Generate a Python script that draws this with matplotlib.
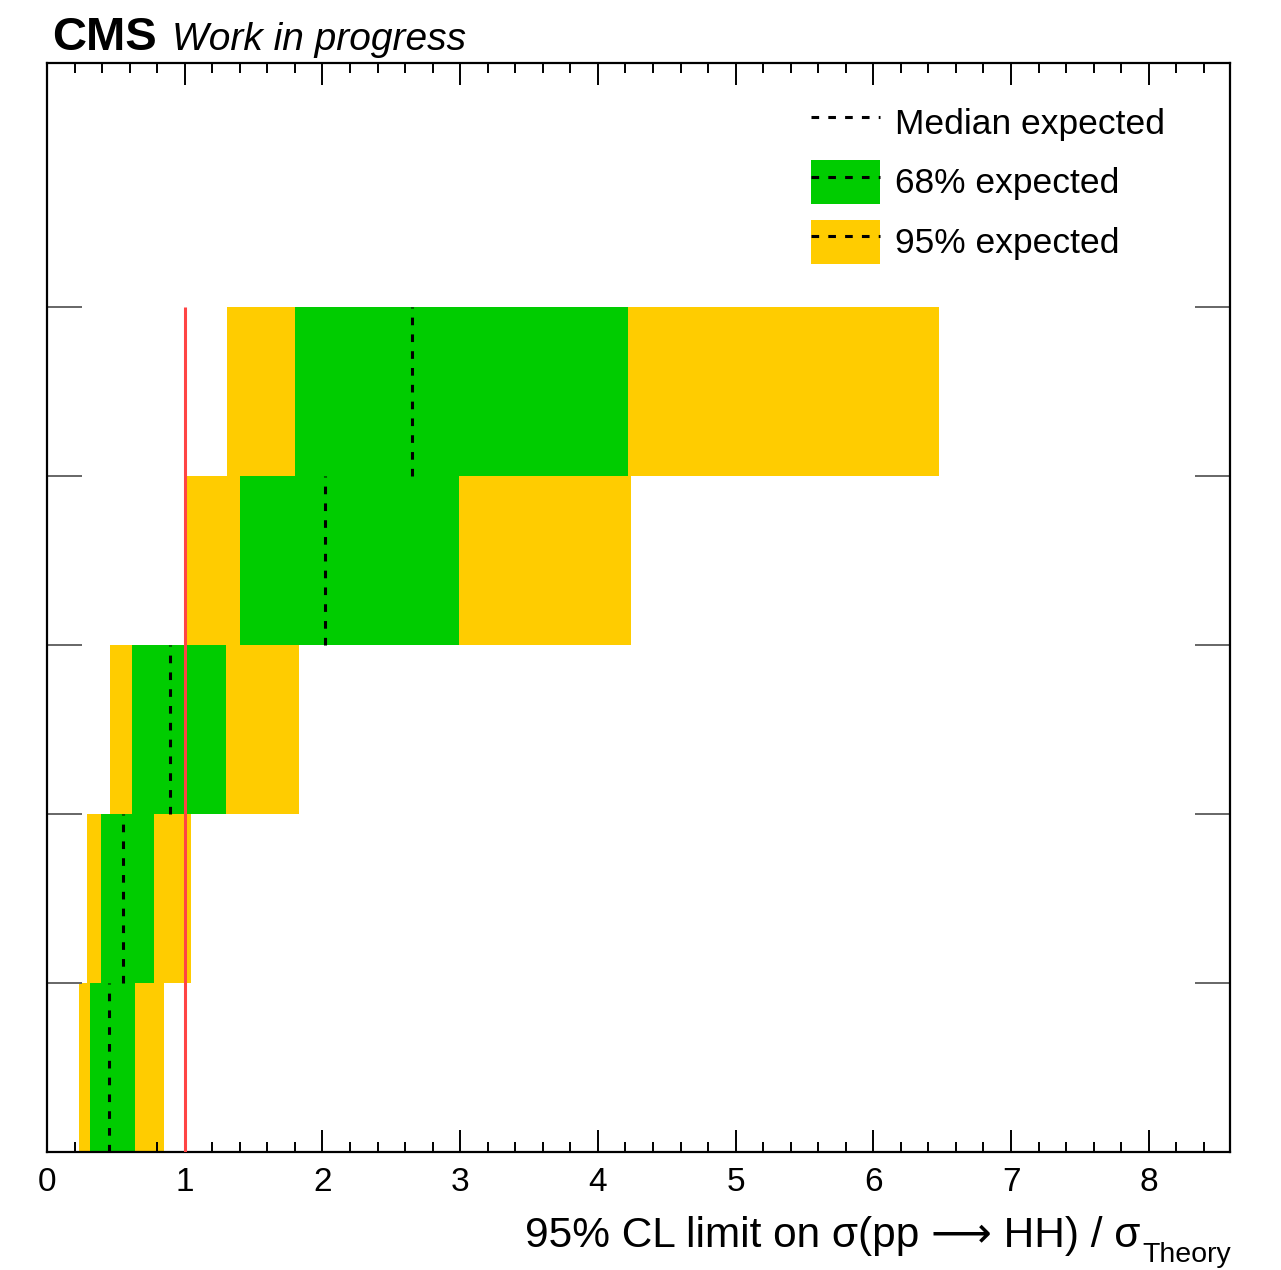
import matplotlib
matplotlib.use("Agg")
import matplotlib.pyplot as plt
import numpy as np
from matplotlib.patches import Patch
from matplotlib.lines import Line2D

plt.rcParams['font.family'] = ['Liberation Sans', 'DejaVu Sans']

# Data (one row per category, bottom to top)
rows = [0, 1, 2, 3, 4]
lo95 = [0.23, 0.29, 0.46, 1.01, 1.31]
lo68 = [0.31, 0.39, 0.62, 1.40, 1.80]
median = [0.45, 0.555, 0.89, 2.02, 2.65]
hi68 = [0.64, 0.78, 1.30, 2.99, 4.22]
hi95 = [0.85, 1.045, 1.83, 4.24, 6.48]
theory = 1.0
xticks = [0, 1, 2, 3, 4, 5, 6, 7, 8]

W, H = 1281, 1270
fig = plt.figure(figsize=(W / 100, H / 100), dpi=100)
ax = fig.add_axes([47 / W, 1 - 1152 / H, (1230 - 47) / W, (1152 - 63) / H])

yellow = '#ffcc00'
green = '#00cc00'
y = np.array(rows) + 0.5
ax.barh(y, np.array(hi95) - np.array(lo95), left=lo95, height=1.0, color=yellow, linewidth=0, zorder=1)
ax.barh(y, np.array(hi68) - np.array(lo68), left=lo68, height=1.0, color=green, linewidth=0, zorder=2)
dash = (0, (2.5, 3.0))
ax.vlines(median, rows, np.array(rows) + 1, colors='black', linewidth=2.2, linestyles=[dash], zorder=3)
ax.vlines(theory, 0, len(rows), colors='#ff4444', linewidth=2.2, zorder=4)

ax.set_xlim(0, 8.59)
ax.set_ylim(0, 6.44)
ax.set_xticks(xticks)
ax.set_xticklabels([str(t) for t in xticks])
ax.set_xticks(np.arange(0, 8.6, 0.2), minor=True)
ax.set_yticks([1, 2, 3, 4, 5])
ax.set_yticklabels([])
ax.tick_params(axis='x', which='major', direction='in', length=15.8, width=1.4, top=True,
               labelsize=24, pad=11, colors='black')
ax.tick_params(axis='x', which='minor', direction='in', length=7.2, width=1.4, top=True)
ax.tick_params(axis='y', which='major', direction='in', length=25, width=1.4, color='#666666',
               left=True, right=True, labelleft=False)
ax.tick_params(axis='y', which='minor', left=False, right=False)
for s in ax.spines.values():
    s.set_linewidth(1.6)
    s.set_color('black')

# x-axis title: main part + lowered subscript
ax_w = 1230 - 47
ax_h = 1152 - 63
lab = ax.set_xlabel("95% CL limit on σ(pp ⟶ HH) / σ", fontsize=30.5, ha='right', va='baseline')
ax.xaxis.set_label_coords((1140 - 47) / ax_w, -(1247 - 1152) / ax_h)
ax.text((1142 - 47) / ax_w, -(1262 - 1152) / ax_h, "Theory", transform=ax.transAxes,
        fontsize=20.5, ha='left', va='baseline', clip_on=False)

handles = [
    Line2D([], [], color='black', linewidth=2.2, linestyle=dash),
    (Patch(facecolor=green, edgecolor='none'), Line2D([], [], color='black', linewidth=2.2, linestyle=dash)),
    (Patch(facecolor=yellow, edgecolor='none'), Line2D([], [], color='black', linewidth=2.2, linestyle=dash)),
]
labels = ['Median expected', '68% expected', '95% expected']
leg = ax.legend(handles, labels, loc='upper left', bbox_to_anchor=(811 / W, 1 - 100 / H),
                bbox_transform=fig.transFigure, frameon=False, fontsize=25.5,
                handlelength=1.96, handleheight=1.53, handletextpad=0.42,
                labelspacing=0.45, borderpad=0, borderaxespad=0)

fig.text(52 / W, 1 - 50 / H, 'CMS', fontsize=34, fontweight='bold', va='baseline', ha='left')
fig.text(172 / W, 1 - 50 / H, 'Work in progress', fontsize=28, fontstyle='italic', va='baseline', ha='left')

fig.savefig('out.png', dpi=100)
